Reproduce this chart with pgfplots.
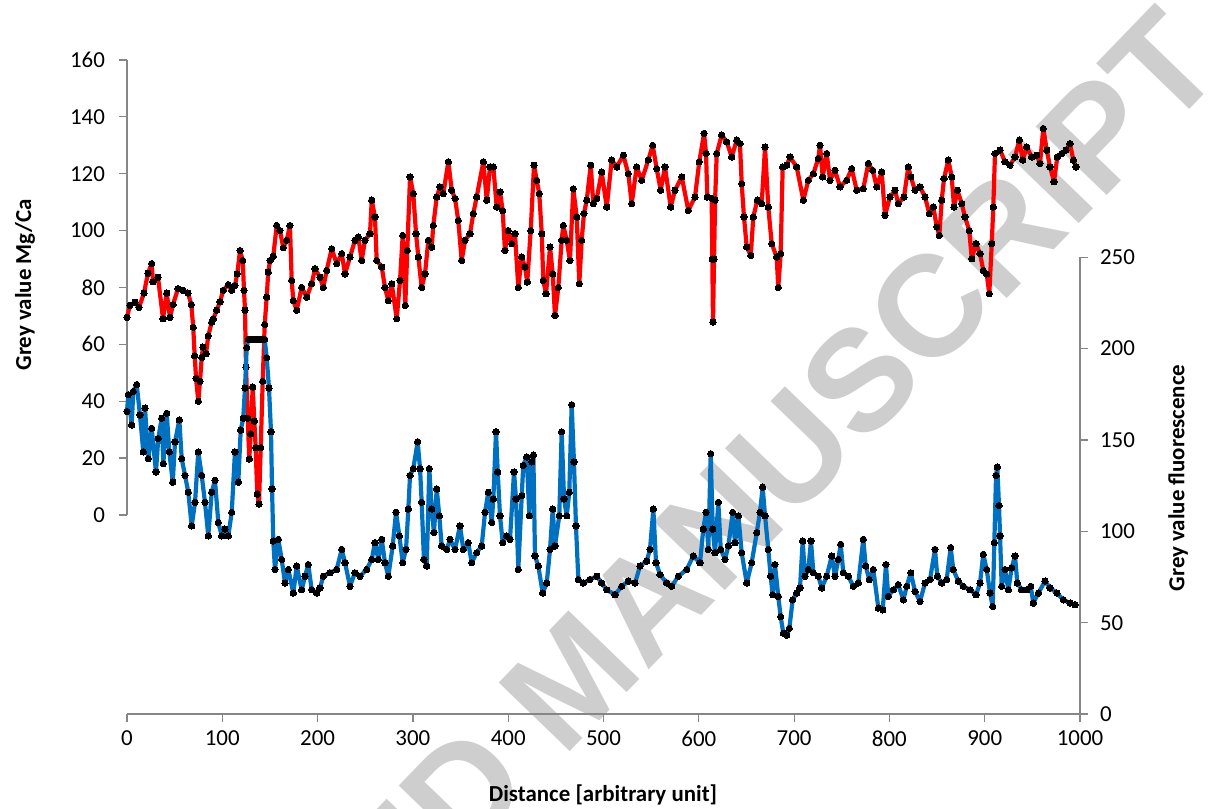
\documentclass[border=0pt]{standalone}
\usepackage{fontspec}
\setmainfont{Carlito}
\newfontfamily\wmfont{Liberation Sans}
\usepackage{pgfplots}
\usepackage{pgfplotstable}
\pgfplotsset{compat=1.18}
\definecolor{excelred}{RGB}{255,0,0}
\definecolor{excelblue}{RGB}{0,112,192}
\definecolor{axgray}{RGB}{134,134,134}
\definecolor{wmgray}{RGB}{206,206,206}

\pgfplotstableread{
x y
0 69.5
3.1 73.7
8.4 74.8
12.6 73
17.8 78
22.0 85
25.9 88.4
27.3 82
32.5 83.6
37.8 69
41.7 78
45.1 69.5
48.3 74
53.5 79.6
58.8 79
64.0 78
67.5 74
69.5 66
71.0 56
72.5 48
74.8 40
76.6 47
78.4 55.4
79.7 59
82.9 56.7
85.3 63
88.9 67.8
90.6 69
94.1 72
97.6 75
101.0 79
106.3 81
109.9 79
113.3 80.7
115.7 84.8
118.6 93
121.4 89.5
122.8 79
123.8 72
124.9 52
126.7 34
128.3 19.7
129.8 28.5
131.9 45
133.6 33
135.0 23.7
136.7 7.3
138.5 3.8
140.3 23.7
142.4 47
144.5 67
146.6 76.6
148.2 85.4
150.1 89.5
153.5 91
157.1 101.8
160.5 100
164.0 94
167.6 96.6
171.0 101.8
172.8 82.5
174.5 75.4
178.1 72
183.3 80
188.6 76.6
193.8 81.3
197.3 86.6
202.5 83.6
206.0 80
209.5 86
214.8 93.6
220.0 88.4
225.3 91.9
228.8 84.8
234.0 90.7
239.2 96.6
242.7 97.7
246.3 89.5
249.7 96.6
255.0 98.9
256.8 110.7
260.2 104.8
262.0 89.5
267.3 87.2
270.7 80
274.2 75.4
277.8 81.3
283.0 69
286.5 82.5
289.3 98.3
292.0 73.7
294.1 93
297.0 118.9
300.4 113
303.3 98.9
305.7 90.7
309.2 80
312.7 84.8
316.2 96.6
319.7 94.2
321.4 101.8
325.0 111.8
328.4 115.4
331.9 113
337.2 124.2
340.7 114.2
344.2 111.3
347.6 103.6
351.2 89.5
354.7 96.6
359.9 98.9
363.4 106
366.9 111.8
373.9 124.2
377.5 110.7
380.9 122.4
384.4 122.4
387.9 108.3
391.4 113.6
394.2 107
396.6 93
400.1 100
403.7 95.4
407.1 98.9
410.6 80
414.2 90.7
417.6 87.2
420.0 81.9
423.6 100
427.1 123
429.9 117.7
432.6 113
435.2 98.9
436.8 82.5
439.7 77.8
443.9 94.2
446.7 84.8
449.1 70.1
452.6 80
456.1 96.6
457.8 101.8
461.4 96.6
464.8 89.5
468.3 114.7
471.9 104.8
474.6 81.3
477.1 96.6
479.5 106
482.4 110.7
486.6 123
489.3 109.5
492.9 111.3
498.1 120.6
503.4 108.3
508.6 124.8
513.9 122.4
520.8 126.5
526.0 120
529.6 109.5
534.8 122.4
540.1 117.7
547.0 124.8
551.6 130
555.8 121.8
560.0 114.2
564.5 122.4
570.5 108.3
575.0 114.2
582.1 118.9
589.0 107.1
596.0 111.8
600.5 124.2
605.5 134.2
607.6 127.1
608.9 111.8
613.5 111.3
614.2 90
614.9 67.8
616.0 90
617.1 110.7
618.8 127.1
624.0 133.6
629.3 131.2
634.5 125.9
639.8 131.8
643.2 130.6
645.0 116.5
647.4 104.8
650.3 94.2
654.5 91.3
657.2 104.8
661.4 110.7
666.0 109.5
669.5 129.4
672.9 108.3
676.5 95.4
681.7 90.7
683.4 80
685.9 91.9
688.0 122.4
692.3 123
695.7 125.9
702.7 122.4
709.7 110.7
714.9 117.7
720.2 120
725.4 125.4
727.2 130
730.0 118.9
734.2 127.1
737.7 117.7
742.9 121.2
748.2 115.4
755.2 117.7
760.4 121.8
765.7 114.2
772.6 114.8
777.9 123.6
782.5 121.2
786.7 115.4
791.9 120.6
795.4 105.4
800.6 111.8
805.9 114.2
809.3 109.5
815.3 111.8
819.8 122.4
822.4 118.9
826.9 114.2
832.1 115.4
837.4 111.8
841.9 106
846.1 108.3
849.7 101.3
852.4 98.3
854.9 110.7
857.3 118.3
861.8 124.8
865.4 118.9
867.8 108.3
871.3 114.2
875.9 109.5
879.3 104.8
883.8 100
886.4 90.1
890.9 95.4
895.1 91.9
898.5 86
902.1 84.8
904.8 77.8
907.4 95.4
909.0 108.3
910.8 127.1
916.1 128.3
921.3 124.2
926.6 123
931.8 125.9
936.3 131.8
939.9 124.8
944.1 129.4
949.3 125.9
954.6 126.5
958.0 123.6
961.5 135.9
965.1 128.3
968.6 122.4
972.7 117.2
976.2 125.9
980.8 127.1
985.3 128.3
989.5 130.6
993.0 124.8
995.8 122.4
}\redtab

\pgfplotstableread{
x y
0 165.6
1.4 174.8
4.9 158.2
6.6 176.6
10.2 180.3
13.6 163.7
17.1 143.5
18.9 167.4
22.4 139.8
25.9 156.4
30.4 132.5
32.8 150.8
36.4 161.9
38.1 137
41.7 164.6
44.4 143.5
48.0 126.9
50.4 149
54.9 161
57.4 139.8
60.9 130.6
64.3 121.4
67.9 103
71.4 115.9
74.8 143.5
78.4 130.6
81.8 115.9
85.3 97.5
88.9 121.4
92.3 127.9
95.8 104.9
99.4 97.5
102.8 101.2
106.3 97.5
109.9 110.4
113.3 143.5
116.8 126.9
119.3 155.4
122.0 161.9
123.8 178.4
125.6 200.5
127.3 205.1
130 205.1
133 205.1
136 205.1
139 205.1
142 205.1
144.5 205.1
146.6 195
149.0 178.4
151.1 154.5
152.2 123.2
153.5 94.7
155.3 79.1
158.8 95.6
162.3 84.6
165.8 71.7
169.3 79.1
174.5 66.2
178.1 81
183.3 68
186.8 75.4
190.2 81.8
193.8 68
199.1 66.2
202.5 69
206.0 75.4
213.0 77.3
220.0 79.1
225.3 90.1
228.8 82.8
234.0 69.9
239.2 77.3
244.5 75.4
251.5 79.1
256.8 84.6
260.2 93.8
263.7 84.6
267.3 95.6
270.7 82.8
274.2 75.4
278.8 92
282.3 110.4
285.8 97.5
289.3 82.8
292.8 90.1
295.2 112.2
297.0 130.6
300.4 134.3
305.0 149
307.5 134.3
309.2 115.9
311.6 84.6
314.5 81
317.2 134.3
319.7 112.2
322.1 99.3
325.0 123.2
327.7 108.5
330.2 92
335.5 90.1
338.9 95.6
344.2 90.1
349.4 103
352.9 90.1
358.1 93.8
361.7 82.8
366.9 88.3
372.2 92
375.7 110.4
379.1 121.4
382.7 104.9
384.4 117.7
387.2 154.5
389.0 132.5
391.4 108.5
394.2 93.8
398.4 97.5
401.9 95.6
406.1 132.5
408.2 117.7
410.6 79.1
414.2 119.5
415.8 136.1
419.4 140.7
422.2 108.5
424.7 138
426.4 141.7
428.1 86.5
431.6 81
436.2 66.2
440.4 71.7
443.9 90.1
446.7 112.2
449.1 92
453.6 108.5
456.1 154.5
458.6 117.7
461.4 108.5
464.1 121.4
466.6 169.3
469.0 138
471.1 103
473.6 73.6
478.8 71.7
485.8 73.6
492.9 75.4
498.1 71.7
503.4 68
512.1 65.3
519.1 69.9
526.0 72.7
533.1 71.7
538.3 81
545.3 83.7
548.8 90.1
552.3 112.2
555.1 82.8
559.3 76.3
566.3 71.7
571.6 69.9
578.5 75.4
587.3 79.1
594.2 86.5
601.3 82.8
604.7 101.2
607.6 110.4
610.0 90.1
612.5 142.5
614.6 101.2
617.0 88.3
620.5 115.9
623.0 90.1
627.5 84.6
631.0 92
635.6 110.4
638.0 93.8
641.5 108.5
645.0 88.3
650.3 71.7
655.5 82.8
660.8 99.3
664.2 110.4
667.0 124.2
669.5 108.5
672.9 90.1
675.4 75.4
677.5 65.3
679.9 81.8
683.4 64.4
685.9 53.3
688.7 44.2
692.2 43.2
695.0 46.9
698.5 62.5
702.7 66.2
706.2 69
709.0 94.7
711.4 75.4
714.9 79.1
717.7 94.7
720.2 77.3
725.4 75.4
729.0 69
734.2 75.4
739.5 86.5
742.9 75.4
746.4 84.6
748.9 92.9
751.6 77.3
756.9 75.4
762.1 69.9
767.4 71.7
772.6 95.6
775.1 81
778.9 73.6
783.1 79.1
788.4 58
793.0 57
796.4 81.8
798.8 64.4
804.1 68
809.3 70.8
814.6 62.5
818.2 69.9
822.4 77.3
826.9 67.1
832.1 61.6
837.4 71.7
842.6 73.6
847.8 90.1
850.3 75.4
854.9 71.7
860.1 73.6
864.3 91.1
867.0 79.1
872.3 72.7
877.5 69.9
884.6 68
890.9 65.3
895.1 71.7
898.5 87.4
902.1 79.1
905.6 66.2
908.4 58.9
910.1 93.8
911.9 130.6
913.2 135.2
915.0 114.1
916.1 97.5
917.8 69.9
921.3 79.1
924.8 68
928.3 80
931.8 86.5
934.2 71.7
938.8 68
944.1 68
948.3 69.9
951.0 60.7
956.3 66.2
963.3 72.7
968.6 69
975.7 66.2
982.6 62.5
989.5 60.7
994.8 59.8
}\bluetab

\begin{document}
\begin{tikzpicture}
\useasboundingbox (-63.5bp,-47.5bp) rectangle (540.5bp,357bp);
% watermark (behind the chart)
\node[rotate=46, text=wmgray, inner sep=0pt,
      font=\wmfont\bfseries\fontsize{72}{72}\selectfont] at (222.5bp,18bp) {ACCEPTED MANUSCRIPT};
\pgfplotsset{
  base/.style={
    at={(0,0)}, anchor=south west, scale only axis,
    width=476.5bp, height=327bp,
    xmin=0, xmax=1000, clip=false,
    axis line style={draw=none},
    tick align=outside, major tick length=4bp,
    tick style={axgray, line width=0.6bp},
    every tick label/.append style={font=\fontsize{11.5}{13}\selectfont, text=black},
    /pgf/number format/assume math mode=true,
    /pgf/number format/1000 sep={},
    mark size=1.6bp,
  },
}
\begin{axis}[base,
  ymin=-70, ymax=160,
  ytick={0,20,...,160}, xtick={0,100,...,1000},
  tick pos=left,
  yticklabel style={xshift=-3.5bp},
  xticklabel style={yshift=-1bp},
]
\draw[axgray, line width=0.8bp] (axis cs:0,-70) -- (axis cs:1000,-70);
\draw[axgray, line width=0.8bp] (axis cs:0,0) -- (axis cs:0,160);
\addplot[excelred, line width=2.1bp, line join=round,
  mark=*, mark options={fill=black, draw=black, line width=0pt}] table[x=x, y=y] {\redtab};
\end{axis}
\begin{axis}[base,
  ymin=0, ymax=358,
  ytick={0,50,...,250}, xtick=\empty,
  ytick pos=right, yticklabel pos=right,
  yticklabel style={xshift=2.5bp},
]
\draw[axgray, line width=0.8bp] (axis cs:1000,0) -- (axis cs:1000,250);
\addplot[excelblue, line width=2.1bp, line join=round,
  mark=*, mark options={fill=black, draw=black, line width=0pt}] table[x=x, y=y] {\bluetab};
\end{axis}
\node[font=\bfseries\fontsize{11.5}{13}\selectfont] at (238bp,-40.5bp) {Distance [arbitrary unit]};
\node[rotate=90, font=\bfseries\fontsize{11.5}{13}\selectfont] at (-51bp,214.5bp) {Grey value Mg/Ca};
\node[rotate=90, font=\bfseries\fontsize{11.5}{13}\selectfont] at (525.5bp,118bp) {Grey value fluorescence};
\end{tikzpicture}
\end{document}
